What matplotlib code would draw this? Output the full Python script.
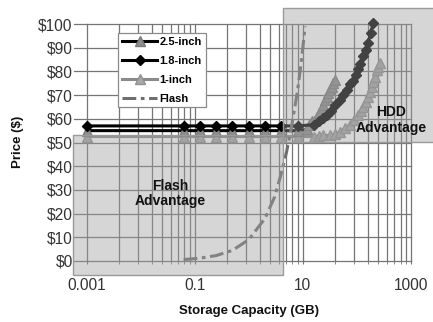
import matplotlib
matplotlib.use('Agg')
import matplotlib.pyplot as plt
from matplotlib.patches import Rectangle
from matplotlib.ticker import FixedLocator, NullFormatter, FixedFormatter

plt.rcParams['font.family'] = ['Liberation Sans', 'DejaVu Sans']

# ---------------- data ----------------
cap_25 = [0.001, 0.0625, 0.125, 0.25, 0.5, 1, 2, 4, 8, 12, 13, 15, 18, 20, 22.3, 24, 25.6, 27.5, 29.5, 32, 34, 36.5, 39.2]
price_25 = [55, 55, 55, 55, 55, 55, 55, 55, 55, 55.5, 57.4, 59, 60.9, 62.5, 64.4, 66, 67.9, 69.4, 70.8, 72.2, 73.5, 75, 76.4]

cap_18 = [0.001, 0.0625, 0.125, 0.25, 0.5, 1, 2, 4, 8, 16, 20, 24, 28, 33, 40, 48, 56, 65, 75, 85, 95, 105, 115, 130, 145, 160, 180, 200]
price_18 = [57, 57, 57, 57, 57, 57, 57, 57, 57, 57.5, 59, 60.5, 61.5, 63.5, 66, 68, 70, 72, 74.5, 76, 78.5, 81, 83, 86.5, 89, 92, 96, 100.5]

cap_1 = [0.001, 0.0625, 0.125, 0.25, 0.5, 1, 2, 4, 8, 16, 20, 24, 32, 40, 48.5, 60, 74, 90, 106, 118, 131, 146, 162, 175, 187, 200, 215, 231, 248, 266]
price_1 = [52.5, 52.5, 52.5, 52.5, 52.5, 52.5, 52.5, 52.5, 52.5, 52.5, 52.8, 53, 53, 53.5, 54.6, 56, 57.4, 59.5, 61.6, 63.3, 65.1, 67.2, 69.3, 71.5, 73.5, 75.6, 77.8, 80.6, 82, 83.4]

cap_flash = [0.0625, 0.125, 0.25, 0.5, 1, 2, 3, 4, 5, 6, 7, 8, 9, 10, 11]
price_flash = [0.6, 1.2, 2.3, 4.5, 9, 18, 27, 37, 46, 55, 64, 72, 81, 90, 99]

series_names = ['2.5-inch', '1.8-inch', '1-inch', 'Flash']
x_tick_values = [0.001, 0.1, 10, 1000]
x_tick_labels = ['0.001', '0.1', '10', '1000']
y_tick_values = [0, 10, 20, 30, 40, 50, 60, 70, 80, 90, 100]
y_tick_labels = ['$0', '$10', '$20', '$30', '$40', '$50', '$60', '$70', '$80', '$90', '$100']

# ---------------- layout ----------------
W, H = 433, 322
fig = plt.figure(figsize=(W / 100, H / 100), dpi=100)
fig.patch.set_facecolor('white')

ax_l, ax_r, ax_t, ax_b = 74, 411, 24, 261
x0px = 86.5
ax = fig.add_axes([ax_l / W, 1 - ax_b / H, (ax_r - ax_l) / W, (ax_b - ax_t) / H])
ax.set_facecolor('white')
ax.set_xscale('log')
dec = (ax_r - x0px) / 6.0
ax.set_xlim(10 ** (-3 - (x0px - ax_l) / dec), 1000)
ax.set_ylim(0, 100)

grid_c = '#757575'
minor_pos = [b * k * k for b in (0.001, 0.1, 10) for k in range(2, 10)]
ax.xaxis.set_major_locator(FixedLocator(x_tick_values))
ax.xaxis.set_major_formatter(FixedFormatter(x_tick_labels))
ax.xaxis.set_minor_locator(FixedLocator(minor_pos))
ax.xaxis.set_minor_formatter(NullFormatter())
ax.yaxis.set_major_locator(FixedLocator(y_tick_values))
ax.yaxis.set_major_formatter(FixedFormatter(y_tick_labels))
ax.yaxis.set_minor_locator(FixedLocator([]))

ax.grid(which='both', axis='x', color=grid_c, lw=0.9)
ax.grid(which='major', axis='y', color=grid_c, lw=0.9)
ax.set_axisbelow(True)
for gl in ax.get_xgridlines() + ax.get_ygridlines():
    gl.set_clip_on(False)
for s in ax.spines.values():
    s.set_visible(False)

ax.tick_params(axis='y', length=0, pad=1, labelsize=11.2, labelcolor='#333333')
ax.tick_params(axis='x', which='major', direction='inout', length=5, color=grid_c,
               pad=10, labelsize=11.2, labelcolor='#333333')
ax.tick_params(axis='x', which='minor', direction='inout', length=4, color=grid_c)

# ---------------- series ----------------
l25, = ax.plot(cap_25, price_25, color='black', lw=2.2, marker='^', ms=7,
               mfc='#8e8e8e', mec='#7a7a7a', clip_on=False, zorder=3)
l18, = ax.plot(cap_18, price_18, color='black', lw=2.2, marker='D', ms=5.5,
               mfc='black', mec='black', clip_on=False, zorder=4)
l1, = ax.plot(cap_1, price_1, color='#8a8a8a', lw=2.2, marker='^', ms=7,
              mfc='#a8a8a8', mec='#909090', clip_on=False, zorder=2)
lf, = ax.plot(cap_flash, price_flash, color='#6e6e6e', lw=2.2,
              linestyle=(0, (4.5, 1.5, 1.2, 1.5)), clip_on=False, zorder=5)

leg = ax.legend([l25, l18, l1, lf], series_names, loc='upper left',
                bbox_to_anchor=(118 / W, 1 - 33 / H), bbox_transform=fig.transFigure,
                borderaxespad=0, fancybox=False, framealpha=1, edgecolor='#8a8a8a',
                prop={'size': 8, 'weight': 'bold'}, handlelength=3.2,
                handletextpad=0.2, labelspacing=0.8, borderpad=0.35, numpoints=1)
leg.get_frame().set_linewidth(0.9)
leg.set_zorder(10)

# ---------------- advantage boxes ----------------
box_face = (0.62, 0.62, 0.62, 0.42)
box_edge = '#9a9a9a'
fig.patches.append(Rectangle((73 / W, 1 - 275 / H), (283 - 73) / W, (275 - 135) / H,
                             transform=fig.transFigure, facecolor=box_face,
                             edgecolor=box_edge, lw=1.0, zorder=2))
fig.patches.append(Rectangle((283 / W, 1 - 142 / H), (440 - 283) / W, (142 - 8) / H,
                             transform=fig.transFigure, facecolor=box_face,
                             edgecolor=box_edge, lw=1.0, zorder=2))

fig.text(170 / W, 1 - 193.5 / H, 'Flash\nAdvantage', ha='center', va='center',
         fontsize=10, fontweight='bold', linespacing=1.1, color='#111111', zorder=5)
fig.text(391 / W, 1 - 120 / H, 'HDD\nAdvantage', ha='center', va='center',
         fontsize=10, fontweight='bold', linespacing=1.1, color='#111111', zorder=5)

# ---------------- axis titles ----------------
fig.text(249 / W, 1 - 311 / H, 'Storage Capacity (GB)', ha='center', va='center',
         fontsize=9.5, fontweight='bold', color='#111111')
fig.text(18 / W, 1 - 142 / H, 'Price ($)', ha='center', va='center', rotation=90,
         fontsize=9.5, fontweight='bold', color='#111111')

fig.savefig('out.png', dpi=100)
